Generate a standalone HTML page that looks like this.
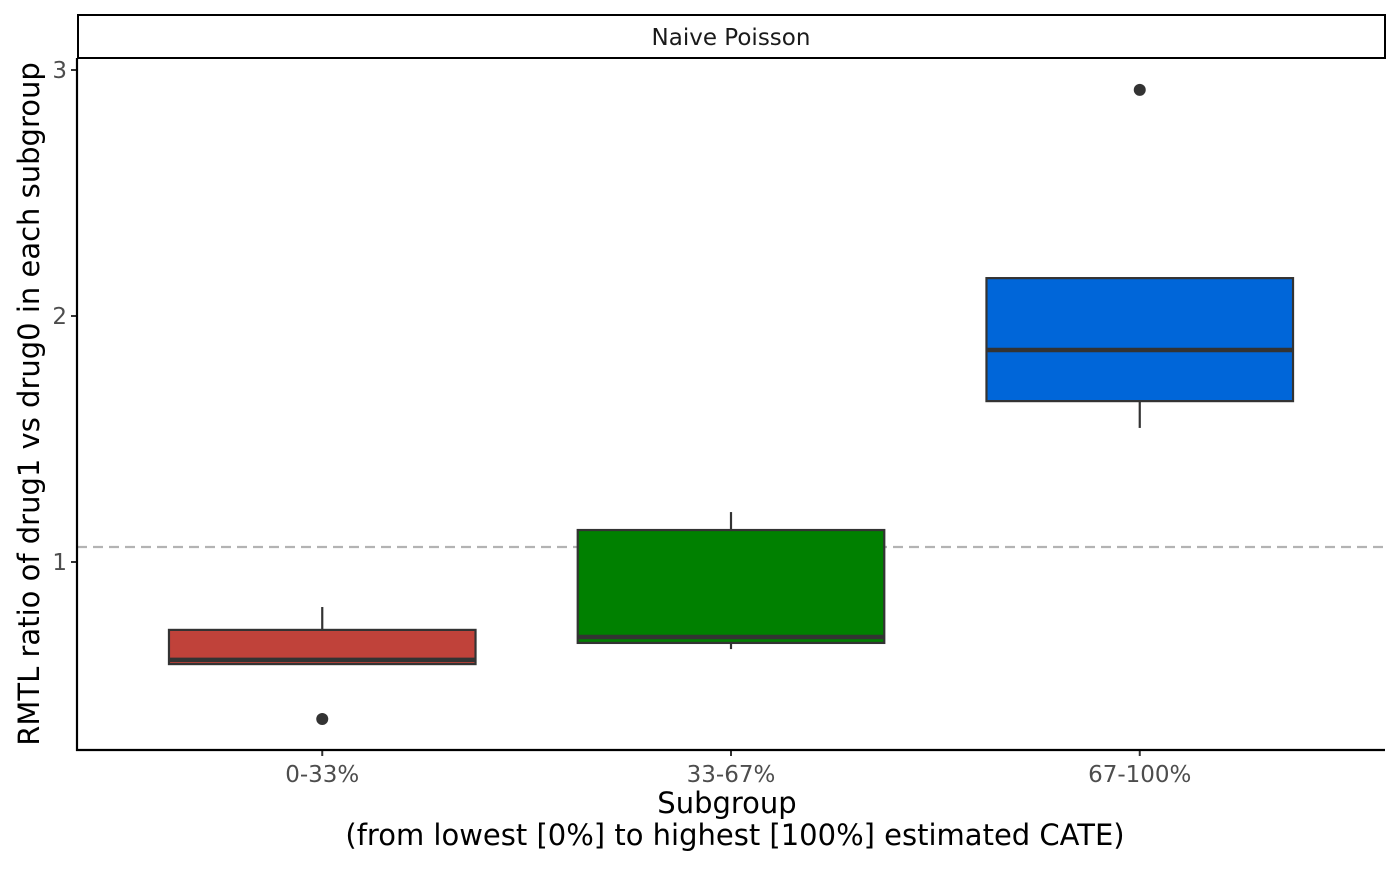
<!DOCTYPE html>
<html><head><meta charset="utf-8"><style>
body{margin:0;background:#fff;font-family:"Liberation Sans","DejaVu Sans",sans-serif}
</style></head><body>
<svg width="1400" height="866" xmlns="http://www.w3.org/2000/svg" font-family="DejaVu Sans, Liberation Sans, sans-serif">
<rect x="0" y="0" width="1400" height="866" fill="#fff"/>
<g id="plot"></g>
<rect x="78" y="15" width="1307" height="43" fill="#fff" stroke="#000" stroke-width="2"/>
<text x="731" y="45" text-anchor="middle" font-size="23" fill="#1a1a1a">Naive Poisson</text>
<text x="727" y="813" text-anchor="middle" font-size="29" fill="#000">Subgroup</text>
<text x="735" y="845" text-anchor="middle" font-size="29" fill="#000">(from lowest [0%] to highest [100%] estimated CATE)</text>
<text transform="translate(39,404) rotate(-90)" text-anchor="middle" font-size="29" fill="#000">RMTL ratio of drug1 vs drug0 in each subgroup</text>
</svg>
<script>
const categories=["0-33%","33-67%","67-100%"];
const q1=[0.585,0.671,1.654];
const med=[0.602,0.695,1.862];
const q3=[0.724,1.130,2.154];
const whiskLo=[0.585,0.646,1.545];
const whiskHi=[0.817,1.203,2.154];
const outliers=[[0.362],[],[2.919]];
const fills=["#c0423a","#008000","#0066d9"];
const yTicks=[1,2,3];
const refLine=1.061;
const L=77,R=1385,T=58,B=750;
const y=v=>562-(v-1)*246;
const step=(R-L)/3.2;
const x=i=>L+(i+0.6)*step;
const g=document.getElementById('plot');
const NS="http://www.w3.org/2000/svg";
function mk(t,a){const e=document.createElementNS(NS,t);for(const k in a)e.setAttribute(k,a[k]);g.appendChild(e);return e;}
let e=mk('line',{x1:L,x2:R,y1:y(refLine),y2:y(refLine),stroke:'#b3b3b3','stroke-width':2.2,'stroke-dasharray':'10,6'});


const bw=step*0.75;
categories.forEach((c,i)=>{
 const cx=x(i);
 let w=mk('line',{x1:cx,x2:cx,y1:y(whiskHi[i]),y2:y(q3[i]),stroke:'#333','stroke-width':2.2});
 
 
 w=mk('line',{x1:cx,x2:cx,y1:y(q1[i]),y2:y(whiskLo[i]),stroke:'#333','stroke-width':2.2});
 
 
 const b=mk('rect',{x:cx-bw/2,y:y(q3[i]),width:bw,height:y(q1[i])-y(q3[i]),fill:fills[i],stroke:'#333','stroke-width':2.2});
 
 
 const m=mk('line',{x1:cx-bw/2,x2:cx+bw/2,y1:y(med[i]),y2:y(med[i]),stroke:'#333','stroke-width':4.5});
 
 
 outliers[i].forEach(v=>{const o=mk('circle',{cx:cx,cy:y(v),r:6,fill:'#333'});
  
  });
 const tk=mk('line',{x1:cx,x2:cx,y1:B,y2:B+6,stroke:'#333','stroke-width':2});
 
 
 const t=mk('text',{x:cx,y:782,'text-anchor':'middle','font-size':23,fill:'#4d4d4d'});
 t.textContent=c;
 
 
});
yTicks.forEach(v=>{
 const tk=mk('line',{x1:L-6,x2:L,y1:y(v),y2:y(v),stroke:'#333','stroke-width':2});
 
 
 const t=mk('text',{x:L-10,y:y(v)+8,'text-anchor':'end','font-size':23,fill:'#4d4d4d'});
 t.textContent=v;
 
 
});
let ax=mk('line',{x1:L,x2:L,y1:T,y2:B+1,stroke:'#000','stroke-width':2.2});


ax=mk('line',{x1:L-1,x2:R,y1:B,y2:B,stroke:'#000','stroke-width':2.2});


</script>
</body></html>
